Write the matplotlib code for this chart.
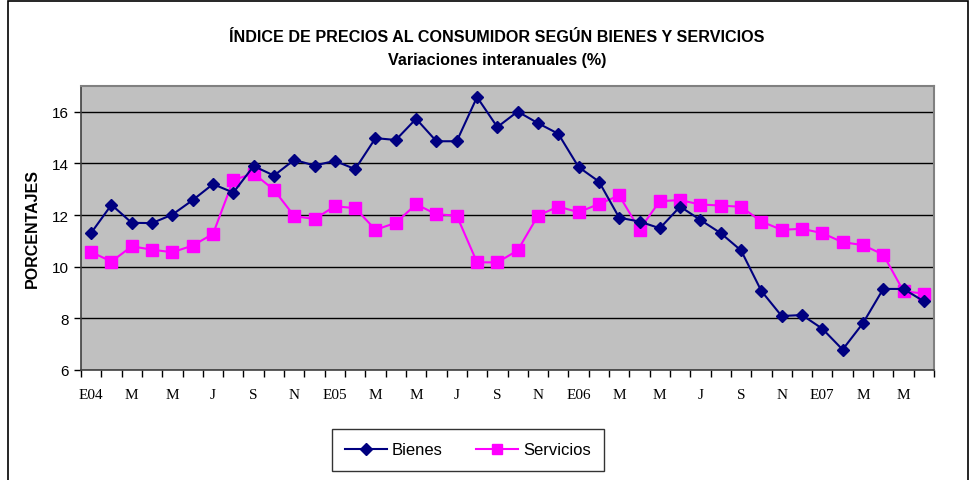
import matplotlib.pyplot as plt
from matplotlib.patches import Rectangle

# variaciones interanuales, enero 2004 - junio 2007
bienes = [11.31, 12.40, 11.70, 11.69, 12.02, 12.58, 13.20, 12.87, 13.90, 13.53, 14.14, 13.92,
          14.10, 13.78, 14.98, 14.91, 15.73, 14.86, 14.86, 16.57, 15.41, 16.01, 15.56, 15.15,
          13.86, 13.30, 11.90, 11.75, 11.49, 12.33, 11.81, 11.30, 10.63, 9.06, 8.09, 8.13,
          7.60, 6.79, 7.81, 9.14, 9.14, 8.66]
servicios = [10.57, 10.20, 10.79, 10.66, 10.56, 10.82, 11.27, 13.36, 13.61, 12.98, 11.96, 11.85,
             12.34, 12.27, 11.43, 11.70, 12.42, 12.03, 11.98, 10.17, 10.17, 10.63, 11.98, 12.33,
             12.11, 12.43, 12.76, 11.44, 12.54, 12.58, 12.41, 12.37, 12.32, 11.75, 11.43, 11.47,
             11.30, 10.95, 10.84, 10.47, 9.05, 8.96]
meses = ['E04', 'F', 'M', 'A', 'M', 'J', 'J', 'A', 'S', 'O', 'N', 'D',
         'E05', 'F', 'M', 'A', 'M', 'J', 'J', 'A', 'S', 'O', 'N', 'D',
         'E06', 'F', 'M', 'A', 'M', 'J', 'J', 'A', 'S', 'O', 'N', 'D',
         'E07', 'F', 'M', 'A', 'M', 'J']

x = list(range(len(meses)))

fig = plt.figure(figsize=(9.72, 4.81), dpi=100)
ax = fig.add_axes([81/972, 1 - 371/481, (934 - 81)/972, (371 - 87)/481])

# marco exterior
fig.patches.append(Rectangle((8/972, -0.05), 960/972, 1.05 - 2/481, transform=fig.transFigure,
                             fill=False, edgecolor='black', linewidth=1.2))

ax.set_facecolor('#C0C0C0')
ax.plot(x, bienes, color='#000080', marker='D', markersize=6.5, linewidth=1.5, label='Bienes', zorder=3)
ax.plot(x, servicios, color='#FF00FF', marker='s', markersize=8.5, linewidth=1.5, label='Servicios', zorder=2)

ax.set_xlim(-0.5, len(meses) - 0.5)
ax.set_ylim(6, 17)
ax.set_yticks([6, 8, 10, 12, 14, 16])
ax.yaxis.grid(True, color='black', linewidth=1)
ax.set_axisbelow(True)

# marcas entre meses, etiqueta cada dos meses
ax.set_xticks([i - 0.5 for i in range(len(meses) + 1)])
ax.set_xticklabels([])
ax.set_xticks(x[::2], minor=True)
ax.set_xticklabels(meses[::2], minor=True, fontfamily='Liberation Serif', fontsize=11)
ax.tick_params(axis='x', which='major', length=5, width=1, direction='out')
ax.tick_params(axis='x', which='minor', length=0, pad=13)
ax.tick_params(axis='y', length=5, width=1, labelsize=11)
for lbl in ax.get_yticklabels():
    lbl.set_fontfamily('Liberation Sans')

for side in ['top', 'right']:
    ax.spines[side].set_color('#808080')
    ax.spines[side].set_linewidth(1.5)
for side in ['left', 'bottom']:
    ax.spines[side].set_color('#404040')
    ax.spines[side].set_linewidth(1.2)

ax.set_ylabel('PORCENTAJES', fontfamily='Liberation Sans', fontweight='bold', fontsize=11.5, labelpad=9)

fig.text(497/972, 1 - 38/481, 'ÍNDICE DE PRECIOS AL CONSUMIDOR SEGÚN BIENES Y SERVICIOS',
         ha='center', va='center', fontfamily='Liberation Sans', fontweight='bold', fontsize=11.6)
fig.text(497/972, 1 - 60/481, 'Variaciones interanuales (%)',
         ha='center', va='center', fontfamily='Liberation Sans', fontweight='bold', fontsize=11.6)

leg = fig.legend(loc='center', bbox_to_anchor=(468/972, 1 - 451/481), ncol=2, frameon=True,
                 fancybox=False, edgecolor='black', prop={'family': 'Liberation Sans', 'size': 12},
                 handlelength=2.5, handletextpad=0.3, columnspacing=2.0, borderpad=0.8,
                 markerscale=0.9)
leg.get_frame().set_linewidth(1)

fig.savefig('out.png', dpi=100)
